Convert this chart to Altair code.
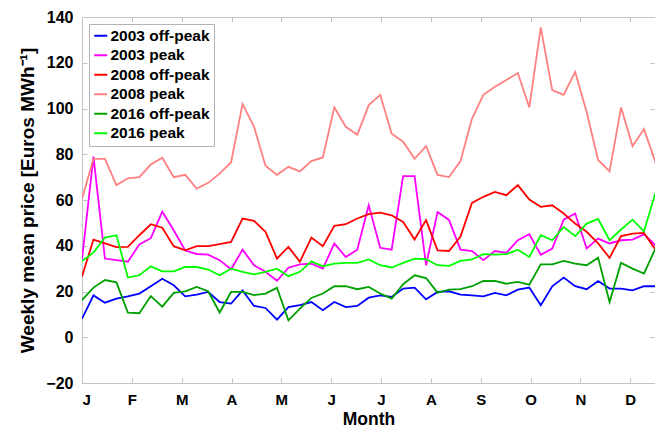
import altair as alt
import pandas as pd

weeks = list(range(1, 53))
month_labels = ["J", "F", "M", "A", "M", "J", "J", "A", "S", "O", "N", "D"]
series_names = ["2003 off-peak", "2003 peak", "2008 off-peak", "2008 peak",
                "2016 off-peak", "2016 peak"]
series_colors = ["#0000ff", "#ff00ff", "#ff0000", "#ff8080", "#00a000", "#00ff00"]
y_ticks = [-20, 0, 20, 40, 60, 80, 100, 120, 140]

off_2003 = [8.1, 18.3, 15.1, 16.9, 17.9, 19.1, 22.3, 25.6, 22.7, 17.9, 18.6, 19.8, 15.4,
            14.7, 20.5, 13.7, 12.8, 7.7, 13.2, 14.0, 15.4, 11.8, 15.4, 13.2, 13.7, 17.3,
            18.3, 17.6, 21.3, 21.7, 16.6, 19.8, 20.1, 18.6, 18.3, 17.9, 19.4, 18.3, 20.8,
            21.7, 14.0, 22.3, 26.1, 22.3, 21.0, 24.6, 21.3, 21.3, 20.5, 22.3, 22.3, 14.0]
peak_2003 = [34.0, 79.0, 34.4, 33.7, 33.0, 40.6, 43.3, 54.9, 46.8, 37.9, 36.4, 36.1, 33.7,
             29.7, 38.3, 31.5, 28.6, 24.7, 30.4, 31.9, 32.2, 30.0, 41.0, 35.1, 38.3, 57.7,
             39.1, 38.3, 70.4, 70.4, 31.5, 54.8, 51.3, 38.3, 37.7, 33.7, 37.7, 36.9, 42.4,
             45.0, 36.1, 38.8, 51.4, 54.1, 38.8, 43.1, 41.0, 42.4, 42.7, 45.0, 40.2, 25.0]
off_2008 = [26.6, 42.7, 41.0, 39.4, 39.5, 44.6, 49.4, 47.9, 39.8, 38.0, 39.8, 39.8, 40.7,
            41.7, 51.9, 50.9, 46.1, 34.4, 39.5, 33.0, 43.6, 39.8, 48.7, 49.4, 51.9, 53.8,
            54.5, 53.3, 50.4, 42.7, 51.2, 38.0, 37.7, 44.0, 58.7, 61.4, 63.5, 62.1, 66.5,
            60.2, 57.0, 57.7, 54.1, 49.7, 46.1, 41.0, 34.7, 44.2, 45.3, 45.6, 38.3, 11.0]
peak_2008 = [60.6, 78.0, 78.0, 66.5, 69.5, 70.0, 75.5, 78.5, 70.0, 71.0, 65.0, 67.5, 71.5,
             76.5, 102.0, 92.0, 75.0, 71.0, 74.5, 72.5, 77.0, 78.6, 100.5, 92.0, 88.5, 101.5,
             106.0, 89.0, 85.5, 78.0, 83.5, 71.0, 70.0, 77.0, 95.5, 106.0, 109.5, 112.5, 115.5,
             100.5, 135.5, 108.0, 106.0, 116.0, 98.5, 77.5, 72.5, 100.5, 83.5, 91.0, 76.5, 52.0]
off_2016 = [16.2, 21.7, 25.0, 24.0, 10.8, 10.5, 18.0, 13.4, 19.4, 20.1, 22.0, 20.1, 10.8,
            19.8, 19.8, 18.4, 19.1, 21.6, 7.4, 12.5, 17.2, 19.1, 22.3, 22.3, 21.0, 22.0,
            19.1, 16.9, 23.2, 27.1, 25.9, 19.5, 20.8, 21.0, 22.3, 24.6, 24.6, 23.4, 24.2,
            23.0, 31.9, 31.9, 33.4, 32.2, 31.5, 34.8, 15.4, 32.5, 30.0, 27.8, 38.8, -5.0]
peak_2016 = [33.3, 37.0, 43.6, 44.6, 26.1, 27.1, 31.0, 28.8, 28.8, 30.7, 30.7, 29.6, 27.1,
             30.0, 28.6, 27.5, 28.6, 30.0, 26.7, 28.6, 33.2, 31.0, 32.2, 32.5, 32.5, 34.0,
             31.5, 30.5, 32.5, 34.4, 34.1, 31.5, 31.2, 33.4, 34.0, 36.3, 36.1, 36.3, 38.3,
             35.1, 44.6, 42.4, 48.2, 44.2, 49.7, 51.7, 42.4, 47.1, 51.4, 46.3, 63.1, 37.0]

all_series = [off_2003, peak_2003, off_2008, peak_2008, off_2016, peak_2016]
rows = []
for name, vals in zip(series_names, all_series):
    for w, v in zip(weeks, vals):
        rows.append({"week": w, "price": v, "series": name})
df = pd.DataFrame(rows)

weeks_per_month = 365 / 12 / 7
month_ticks = [1 + k * weeks_per_month for k in range(12)]
label_expr = ("[" + ",".join("'%s'" % m for m in month_labels) + "]"
              + "[round((datum.value - 1) / %f)]" % weeks_per_month)

FONT = "Liberation Sans"
GRAY = "#c4c4c4"

xscale = alt.Scale(domain=[1, 50.96], nice=False, zero=False)
yscale = alt.Scale(domain=[-20, 140], nice=False, zero=False)

color = alt.Color(
    "series:N",
    sort=series_names,
    scale=alt.Scale(domain=series_names, range=series_colors),
    legend=alt.Legend(
        title=None, orient="none", legendX=7, legendY=7,
        symbolType="stroke", symbolSize=169, symbolStrokeWidth=2,
        labelFont=FONT, labelFontSize=15.5, labelFontWeight="bold", labelColor="black",
        labelOffset=2, rowPadding=2.5, padding=4,
        strokeColor="#b4b4b4", fillColor="white", cornerRadius=0,
    ),
)

lines = alt.Chart(df).mark_line(strokeWidth=1.8, clip=True).encode(
    x=alt.X("week:Q", scale=xscale,
            axis=alt.Axis(orient="bottom", values=month_ticks, labelExpr=label_expr,
                          title="Month", offset=-5, tickSize=5, domain=False, grid=False,
                          labelFontSize=15, labelPadding=9, titlePadding=3,
                          titleFontSize=17.5)),
    y=alt.Y("price:Q", scale=yscale,
            axis=alt.Axis(orient="left", values=y_ticks, title="Weekly mean price [Euros MWh⁻¹]",
                          offset=-5, tickSize=5, domain=False, grid=False,
                          labelPadding=9, titlePadding=8)),
    color=color,
)

frame = alt.Chart(df).mark_line(opacity=0).encode(
    x=alt.X("week:Q", scale=xscale,
            axis=alt.Axis(orient="top", values=month_ticks, labels=False, title="",
                          offset=-5, tickSize=5, domain=False, grid=False)),
    y=alt.Y("price:Q", scale=yscale,
            axis=alt.Axis(orient="right", values=y_ticks, labels=False, title="",
                          offset=-5, tickSize=5, domain=False, grid=False)),
    detail="series:N",
)

chart = alt.layer(lines, frame).resolve_axis(
    x="independent", y="independent"
).properties(
    width=573, height=366,
    padding={"left": 74, "top": 9, "right": 0, "bottom": 44},
    autosize=alt.AutoSizeParams(type="none"),
).configure_view(
    stroke=GRAY, strokeWidth=1
).configure_axis(
    labelFont=FONT, labelFontSize=16, labelFontWeight="bold", labelColor="black",
    titleFont=FONT, titleFontSize=19, titleFontWeight="bold", titleColor="black",
    tickColor=GRAY, tickWidth=1,
)

chart.save("out.html", embed_options={"renderer": "svg", "actions": False})
